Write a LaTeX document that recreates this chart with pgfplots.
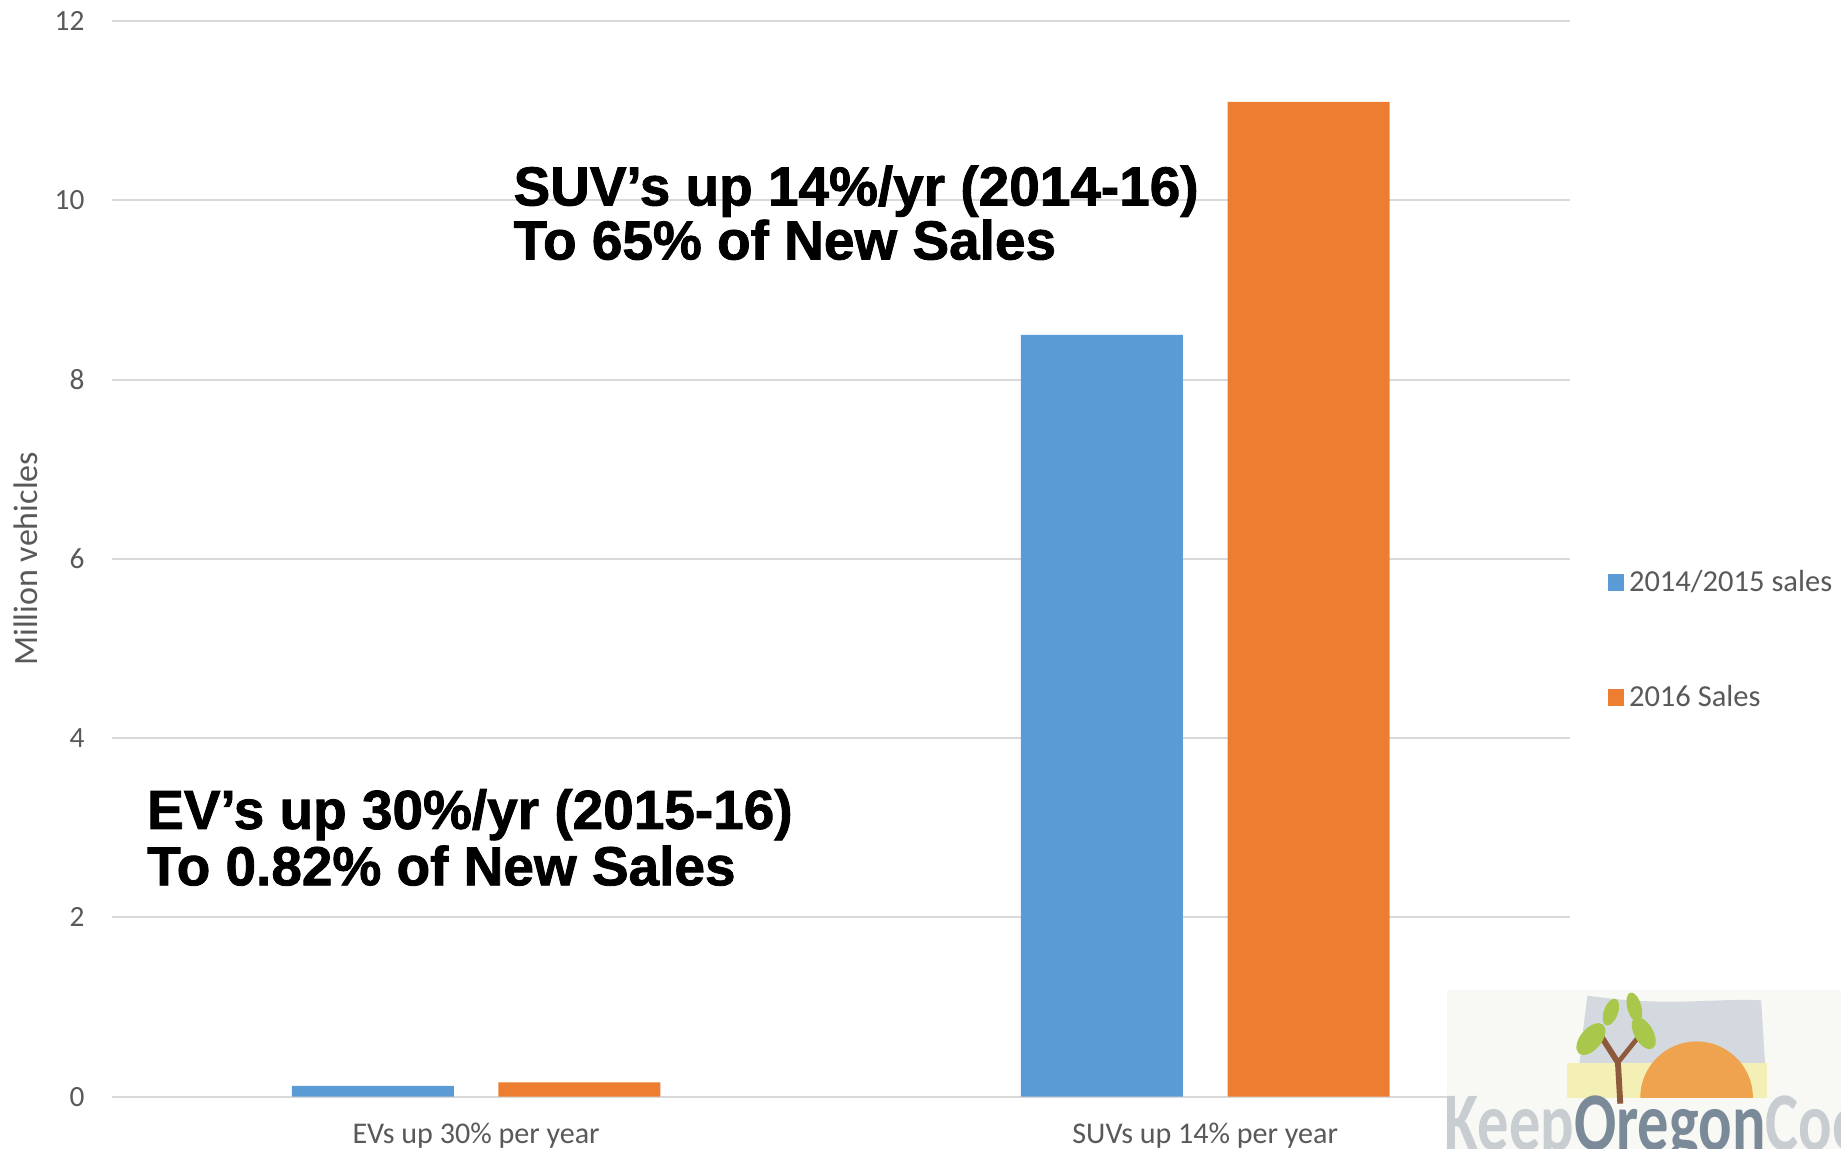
\documentclass[border=0pt]{standalone}
\usepackage{pgfplots}
\pgfplotsset{compat=1.18}
\usepackage{graphicx}
\usepackage{fontspec}
\setmainfont{Carlito}
\newfontfamily\arialb{Liberation Sans}[BoldFeatures={FakeBold=1.5}]
\definecolor{cblue}{HTML}{5B9BD5}
\definecolor{corange}{HTML}{ED7D31}
\definecolor{tickgray}{HTML}{595959}
\definecolor{gridgray}{HTML}{D9D9D9}
\definecolor{logobg}{HTML}{F8F8F4}
\definecolor{logogray}{HTML}{C8CDD2}
\definecolor{logodark}{HTML}{7B8A99}
\definecolor{oreg}{HTML}{D3D9DF}
\definecolor{sun}{HTML}{F0A34E}
\definecolor{ground}{HTML}{F3EFB5}
\definecolor{leaf}{HTML}{A9C84B}
\definecolor{trunk}{HTML}{8E5A3C}
\pgfplotsset{mylegend/.style={legend image code/.code={\fill[##1] (0pt,-3.5pt) rectangle (7pt,3.5pt);}}}
\newcommand{\cf}{\fontsize{12.5}{15}\selectfont}
\newcommand{\af}{\arialb\bfseries\fontsize{23.4}{26}\selectfont}
\begin{document}
\begin{tikzpicture}
\clip (0,0) rectangle (784pt,489pt);
\begin{axis}[
  at={(47.5pt,22pt)}, anchor=south west,
  scale only axis, width=621pt, height=458pt,
  xmin=-0.5, xmax=1.5, ymin=0, ymax=12,
  ybar=19pt, bar width=69pt,
  xtick={0,1}, xticklabels={EVs up 30\% per year, SUVs up 14\% per year},
  ytick={0,2,4,6,8,10,12},
  major tick length=0pt,
  axis line style={draw=none},
  ymajorgrids, grid style={gridgray, line width=0.8pt},
  /pgf/number format/assume math mode=true,
  yticklabel style={font=\cf, text=tickgray, xshift=-8pt},
  xticklabel style={font=\fontsize{12.8}{15}\selectfont, text=tickgray, yshift=-7.5pt},
  ylabel={Million vehicles},
  ylabel style={at={(axis description cs:-0.0588,0.5)}, anchor=center, font=\fontsize{14.5}{16}\selectfont, text=tickgray},
  legend style={at={(axis description cs:1.0258,0.4245)}, anchor=west, draw=none, fill=none,
    font=\fontsize{13}{15}\selectfont, text=tickgray, row sep=34.5pt, inner sep=0pt},
  legend cell align=left,
]
\addplot[fill=cblue, draw=none, mylegend] coordinates {(0,0.12) (1,8.5)};
\addplot[fill=corange, draw=none, mylegend] coordinates {(0,0.16) (1,11.1)};
\legend{2014/2015 sales, 2016 Sales}
\end{axis}
\begin{scope}[shift={(0,489pt)}, x=0.5pt, y=-0.5pt]
  % annotations
  \node[anchor=base west, inner sep=0] at (125,706) {\af EV’s up 30\%/yr (2015-16)};
  \node[anchor=base west, inner sep=0] at (125,754) {\af To 0.82\% of New Sales};
  \node[anchor=base west, inner sep=0] at (437,175) {\af SUV’s up 14\%/yr (2014-16)};
  \node[anchor=base west, inner sep=0] at (437,221) {\af To 65\% of New Sales};
  % logo
  \fill[logobg] (1232,843) rectangle (1570,980);
  \fill[oreg] (1352,848) .. controls (1420,858) and (1460,850) .. (1500,852) -- (1505,935) -- (1342,935) -- (1348,880) -- cycle;
  \fill[ground] (1335,905) rectangle (1505,935);
  \begin{scope}
    \clip (1380,860) rectangle (1500,935);
    \fill[sun] (1445,935) circle (48);
  \end{scope}
  \draw[trunk, line width=2.5pt] (1380,940) -- (1378,905) -- (1362,880);
  \draw[trunk, line width=2pt] (1378,905) -- (1398,880);
  \fill[leaf, rotate around={-40:(1355,885)}] (1355,885) ellipse (9 and 16);
  \fill[leaf, rotate around={30:(1400,880)}] (1400,880) ellipse (8 and 15);
  \fill[leaf, rotate around={15:(1392,858)}] (1392,858) ellipse (6 and 13);
  \fill[leaf, rotate around={-20:(1372,862)}] (1372,862) ellipse (6 and 12);
  \node[anchor=base west, inner sep=0] at (1230,980) {\scalebox{0.75}[1]{\fontsize{35.5}{36}\selectfont\bfseries\textcolor{logogray}{Keep}\textcolor{logodark}{Oregon}\textcolor{logogray}{Cool}}};
\end{scope}
\end{tikzpicture}
\end{document}
